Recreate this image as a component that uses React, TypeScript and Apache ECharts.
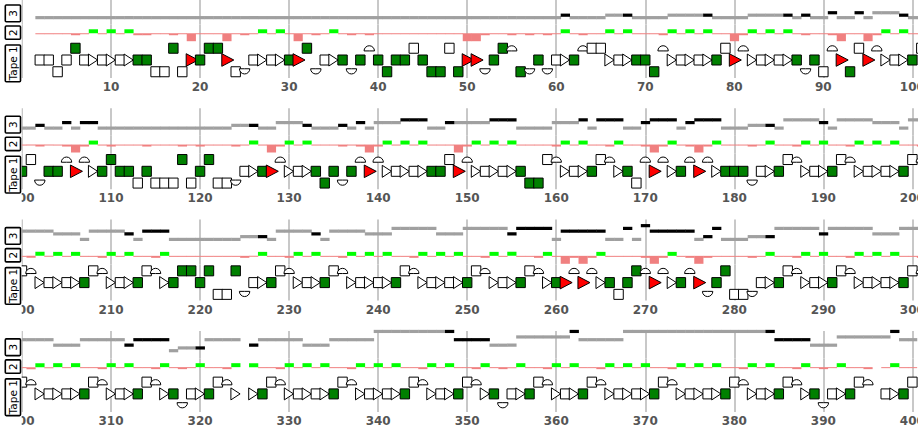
import React, { useEffect, useRef } from "react";
import * as echarts from "echarts";

const W = 923;
const H = 431;
const CANVAS_W = 960;

// ---- data ----
const panelStarts = [0, 100, 200, 300];
const tickStep = 10;
const trackNames = ["3", "2", "Tape 1"];

// Tape 1, one char per position (0..400)
// S/s/q white square mid/up/down, G/g/h green square mid/up/down,
// T white triangle, R red triangle, U half-disc (up row), D half-disc (down row), "." empty
const tape1_000 = ["..SSqSgSTS", "TSTGGqqgqR", "GggRqDSTST", "GRgDSTGDGU", "GhGGsGhhsh", "RRDGgUhDGD", "STGUssTSTG", "GhUTSTSTGs", "RUTSTSTGDG", "qURhsRUTST"];
const tape1_100 = ["GsDGGURUTG", "gGGqGqqqgq", "GgqqDSTGRU", "TSTGhGDGUR", "UTSTSTGGsR", "UTSTSTGhhs", "UTSTGsUTGq", "URUTGURUTG", "GGDSTGsUTS", "TGsUTSTSTG"];
const tape1_200 = ["sUTSTSTGsU", "TSTGsUTGgg", "GgqqgDSTGs", "UTSTGsUTST", "STGsUTSTST", "GsUTSTGsUT", "GRURUTGqGg", "URUTGURDGg", "qqDSTGsUTS", "TGsUTSTSTG"];
const tape1_300 = ["sUTSTSTGsU", "TSTGsUTGDS", "TGsUT.TGsU", "TSTSTGsUTS", "TSTGsUTSTG", "sUTGDSTGsU", "TSTGsUTSTS", "TGsUTSTSTG", "sUTSTGsUTG", "DSTGsU.STG"];
const tape1_400 = "s";

// Track 2: "+" green bar, "-" thin pink, "s" small pink dip, "B" big pink bar, " " nothing
const track2_000 = ["  ----s-+-", "+-+ss--s-B", "---B-s-+-+", "-B-s-+-s-s", "----------", "BBs--s-s-s", "-+-s--+-+-", "--s+-+-+--", "Bs+-+-+-s-", "-sB--Bs+-+"];
const track2_100 = ["--s--sBs+-", "s---s---s-", "s---s-+-Bs", "+-+---s-sB", "s+-+-+---B", "s+-+-+----", "s+-+--s+--", "sBs+-sBs+-", "--s-+--s+-", "+--s+-+-+-"];
const track2_200 = ["-s+-+-+--s", "+-+--s+---", "-----s-+--", "s+-+--s+-+", "-+--s+-+-+", "--s+-+--s+", "-BsBs+----", "sBs+-sBs--", "--s-+--s+-", "+--s+-+-+-"];
const track2_300 = ["-s+-+-+--s", "+-+--s+-s-", "+--s+ +--s", "+-+-+--s+-", "+-+--s+-+-", "-s+-s-+--s", "+-+--s+-+-", "+--s+-+-+-", "-s+-+--s+-", "s-+--s -+-"];
const track2_400 = "-";
const track2Heights: Record<string, number> = { "+": 1, "-": -0.25, s: -0.5, B: -2 };

// Track 3: digit = grey segment at that level, letter a..h = black segment at level 0..7
const track3_000 = ["  00000000", "0000000000", "0000000000", "0000000000", "0000000000", "0000000000", "0b000011b0", "0001111b00", "001111b0b0", "0c00c0222b"];
const track3_100 = ["00b00c0cc0", "0000000000", "000011b002", "22b000b0c0", "222ddd00c2", "222ddd0000", "222d0ddd00", "cddd0cddd0", "0011b03333", "c033332220"];
const track3_200 = ["3333222033", "33c0ddd000", "0000011b03", "333c033332", "2244444222", "44444ceeee", "0ddddd00e0", "fddddd0be0", "0011b44444", "c444442224"];
const track3_300 = ["4444222444", "44ceeee011", "b4444 c444", "4422244444", "77777777he", "eee2225555", "55h4444477", "7777777777", "7777heeee2", "22555555h4"];
const track3_400 = "4";

const tape1 = [tape1_000, tape1_100, tape1_200, tape1_300].map((a) => a.join("")).join("") + tape1_400;
const track2 = [track2_000, track2_100, track2_200, track2_300].map((a) => a.join("")).join("") + track2_400;
const track3 = [track3_000, track3_100, track3_200, track3_300].map((a) => a.join("")).join("") + track3_400;

// char -> [row level, kind]
const symbolKinds: Record<string, [number, number]> = {
  S: [0, 0], s: [1, 0], q: [-1, 0],
  G: [0, 1], g: [1, 1], h: [-1, 1],
  T: [0, 2], R: [0, 3], U: [1, 4], D: [-1, 5],
};

// ---- layout / style ----
const PANEL_DY = 111.3;
const GRID_LEFT = 22;
const GRID_WIDTH = 890.4;
const CLIP_LEFT = 21.7;
const CLIP_RIGHT = 918;
const tracks = [
  { top: -3, height: 27.5, min: -2.8, max: 7.2 },
  { top: 24.5, height: 17.5, min: -2.2, max: 2.2 },
  { top: 42, height: 36, min: -1.53, max: 1.53 },
];
const boxes = [
  { y: 5, h: 16.7 },
  { y: 26, h: 13.3 },
  { y: 45, h: 36.7 },
];

const renderTape = (_params: any, api: any) => {
  const x = api.value(0);
  const lv = api.value(1);
  const k = api.value(2);
  const c = api.coord([x, lv]);
  const cx = c[0];
  const cy = c[1];
  const base = { fill: "#ffffff", stroke: "#000000", lineWidth: 1 };
  if (k === 0 || k === 1) {
    return {
      type: "rect",
      shape: { x: cx - 4.7, y: cy - 5, width: 9.4, height: 10 },
      style: { ...base, fill: k === 1 ? "#008000" : "#ffffff" },
    };
  }
  if (k === 2) {
    return {
      type: "polygon",
      shape: { points: [[cx - 4.8, cy - 6], [cx + 4.4, cy], [cx - 4.8, cy + 6]] },
      style: base,
    };
  }
  if (k === 3) {
    return {
      type: "polygon",
      shape: { points: [[cx - 5, cy - 6.3], [cx + 7, cy], [cx - 5, cy + 6.3]] },
      style: { ...base, fill: "#ff0000" },
    };
  }
  if (k === 4) {
    return {
      type: "sector",
      shape: { cx, cy: cy + 2.7, r0: 0, r: 5.2, startAngle: Math.PI, endAngle: Math.PI * 2, clockwise: true },
      style: base,
    };
  }
  return {
    type: "sector",
    shape: { cx, cy: cy - 3, r0: 0, r: 5.2, startAngle: 0, endAngle: Math.PI, clockwise: true },
    style: base,
  };
};

const renderTrack2 = (_params: any, api: any) => {
  const x = api.value(0);
  const v = api.value(1);
  const p0 = api.coord([x - 0.5, 0]);
  const p1 = api.coord([x + 0.5, v]);
  return {
    type: "rect",
    shape: { x: p0[0], y: Math.min(p0[1], p1[1]), width: p1[0] - p0[0] + 0.3, height: Math.abs(p1[1] - p0[1]) },
    style: { fill: v > 0 ? "#00ff00" : "#f08080" },
  };
};

const renderTrack3 = (_params: any, api: any) => {
  const x = api.value(0);
  const lv = api.value(1);
  const black = api.value(2);
  const p0 = api.coord([x - 0.5, lv]);
  const p1 = api.coord([x + 0.5, lv]);
  return {
    type: "rect",
    shape: { x: p0[0], y: p0[1] - 1.6, width: p1[0] - p0[0] + 0.4, height: 3.2 },
    style: { fill: black ? "#000000" : "#a0a0a0" },
  };
};

function buildOption() {
  const grid: any[] = [];
  const xAxis: any[] = [];
  const yAxis: any[] = [];
  const series: any[] = [];
  const graphic: any[] = [];

  panelStarts.forEach((start, i) => {
    const oy = i * PANEL_DY;
    const lo = Math.max(0, start - 1);
    const hi = Math.min(tape1.length - 1, start + 101);

    const tapeData: number[][] = [];
    const t2Data: number[][] = [];
    const t3Gray: number[][] = [];
    const t3Black: number[][] = [];
    for (let p = lo; p <= hi; p++) {
      const a = tape1[p];
      if (symbolKinds[a]) tapeData.push([p, symbolKinds[a][0], symbolKinds[a][1]]);
      const b = track2[p];
      if (b in track2Heights) t2Data.push([p, track2Heights[b]]);
      const c = track3[p];
      if (c >= "0" && c <= "9") t3Gray.push([p, Number(c), 0]);
      else if (c >= "a" && c <= "h") t3Black.push([p, c.charCodeAt(0) - 97, 1]);
    }

    tracks.forEach((t, j) => {
      const gi = grid.length;
      grid.push({ left: GRID_LEFT, width: GRID_WIDTH, top: t.top + oy, height: t.height });
      xAxis.push({
        gridIndex: gi,
        type: "value",
        min: start,
        max: start + 100,
        interval: tickStep,
        axisLine: { show: false },
        axisTick: { show: false },
        splitLine: { show: true, lineStyle: { color: "#c8c8c8", width: 2 } },
        axisLabel:
          j === 2
            ? {
                show: true,
                showMinLabel: i !== 0,
                showMaxLabel: true,
                margin: 3,
                fontSize: 12,
                fontWeight: "bold",
                color: "#555555",
                fontFamily: "DejaVu Sans",
              }
            : { show: false },
      });
      yAxis.push({ gridIndex: gi, type: "value", min: t.min, max: t.max, show: false });

      if (j === 0) {
        series.push({
          type: "custom",
          xAxisIndex: gi,
          yAxisIndex: gi,
          renderItem: renderTrack3,
          data: t3Gray.concat(t3Black),
          silent: true,
        });
      } else if (j === 1) {
        series.push({
          type: "custom",
          xAxisIndex: gi,
          yAxisIndex: gi,
          renderItem: renderTrack2,
          data: t2Data,
          silent: true,
        });
      } else {
        series.push({
          type: "custom",
          xAxisIndex: gi,
          yAxisIndex: gi,
          renderItem: renderTape,
          data: tapeData,
          silent: true,
        });
      }
    });

    boxes.forEach((b, j) => {
      graphic.push({
        type: "rect",
        z: 110,
        shape: { x: 5.3, y: b.y + oy, width: 15.2, height: b.h, r: 1 },
        style: { fill: "#ffffff", stroke: "#000000", lineWidth: 1.6 },
      });
      graphic.push({
        type: "text",
        z: 111,
        x: 13,
        y: b.y + oy + b.h / 2,
        rotation: Math.PI / 2,
        style: {
          text: trackNames[j],
          font: "10.5px 'DejaVu Sans'",
          fill: "#000000",
          align: "center",
          verticalAlign: "middle",
          textAlign: "center",
          textVerticalAlign: "middle",
        },
      });
    });
  });

  // clip masks at the plot edges
  graphic.unshift(
    { type: "rect", z: 100, shape: { x: 0, y: 0, width: CLIP_LEFT, height: H }, style: { fill: "#ffffff" } },
    { type: "rect", z: 100, shape: { x: CLIP_RIGHT, y: 0, width: CANVAS_W - CLIP_RIGHT, height: H }, style: { fill: "#ffffff" } }
  );

  return {
    animation: false,
    backgroundColor: "#ffffff",
    grid,
    xAxis,
    yAxis,
    series,
    graphic: { elements: graphic },
  };
}

export default function App() {
  const ref = useRef<HTMLDivElement>(null);
  useEffect(() => {
    if (!ref.current) return;
    const chart = echarts.init(ref.current, undefined, { renderer: "svg", width: CANVAS_W, height: H });
    chart.setOption(buildOption() as any);
    return () => chart.dispose();
  }, []);
  return (
    <div
      ref={ref}
      style={{ position: "fixed", left: 0, top: 0, width: CANVAS_W, height: H, background: "#ffffff" }}
    />
  );
}
